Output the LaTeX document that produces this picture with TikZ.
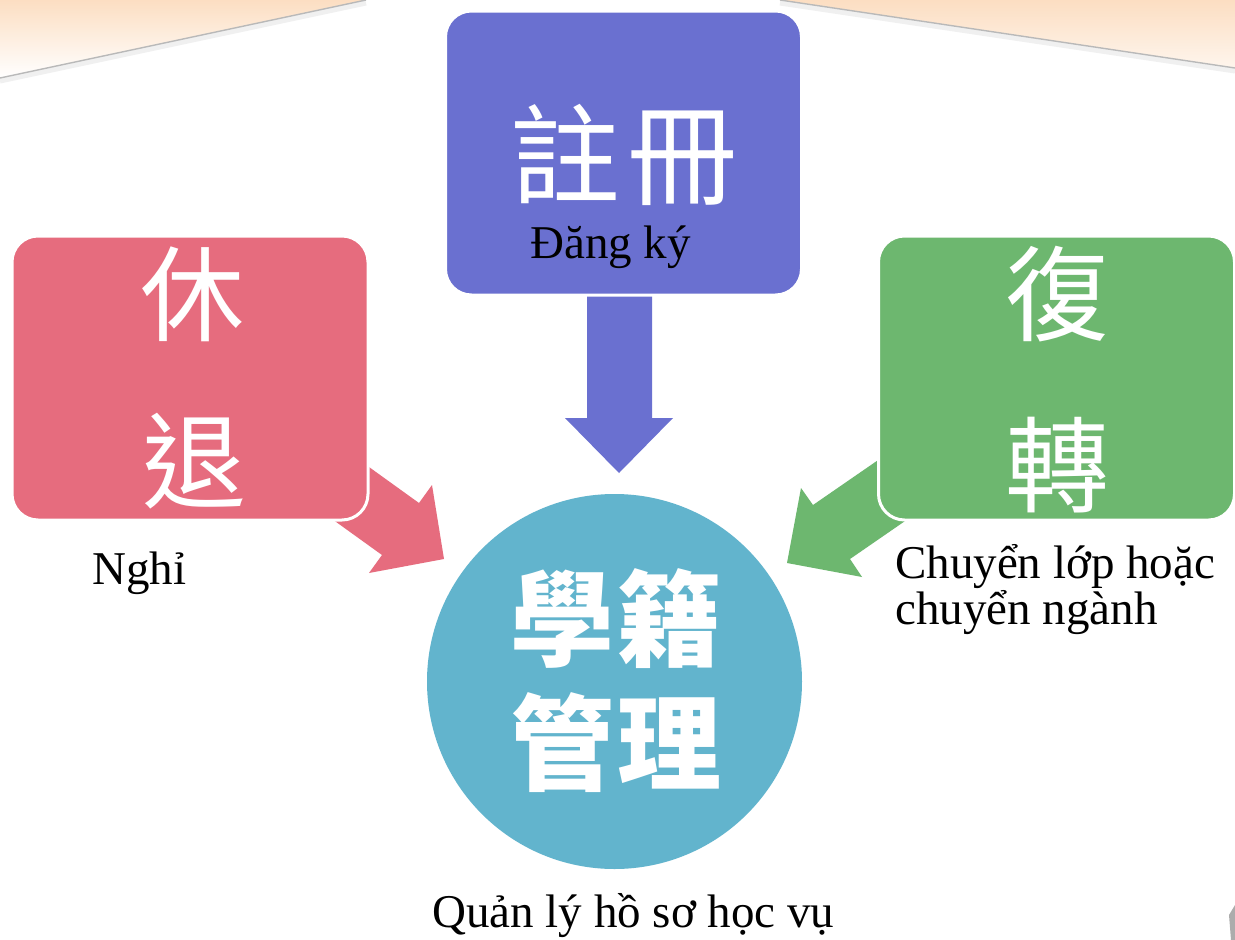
\documentclass[tikz,border=0pt]{standalone}
\usepackage{fontspec}
\setmainfont{Liberation Serif}
\newfontfamily\cjk{Noto Sans CJK TC}
\usetikzlibrary{backgrounds}
\definecolor{regblue}{RGB}{106,112,208}
\definecolor{restred}{RGB}{230,108,126}
\definecolor{retgreen}{RGB}{109,183,111}
\definecolor{circblue}{RGB}{98,180,205}
\definecolor{peach}{RGB}{252,222,194}
\pgfdeclarelayer{deco}
\pgfsetlayers{deco,background,main}
\begin{document}
\begin{tikzpicture}[x=1pt,y=-1pt,
  box/.style={rounded corners=26pt, draw=white, line width=3pt, minimum width=356pt, minimum height=284pt, inner sep=0pt},
  hanzi/.style={text=white, inner sep=0pt, font=\cjk\fontsize{104}{110}\selectfont},
  hanzib/.style={text=white, inner sep=0pt, font=\cjk\bfseries\fontsize{104}{110}\selectfont},
  viet/.style={text=black, inner sep=0pt, anchor=base west, font=\fontsize{47}{47}\selectfont},
  edgeline/.style={draw=gray!55, line width=1.4pt},
  edgeshadow/.style={draw=gray!12, line width=5pt}
]
\useasboundingbox (0,0) rectangle (1235,940);

% decoration at the top
\begin{pgfonlayer}{deco}
  \fill[white] (0,0) rectangle (1235,940);
  \shade[top color=peach, bottom color=white] (0,0) -- (366,0) -- (0,78) -- cycle;
  \shade[top color=peach, bottom color=peach!30] (780,0) -- (1235,0) -- (1235,68) -- cycle;
  \draw[edgeshadow] (0,81) -- (366,3);
  \draw[edgeshadow] (780,3) -- (1235,71);
  \draw[edgeline] (0,78) -- (366,0);
  \draw[edgeline] (780,0) -- (1235,68);
  \fill[gray!65] (1229,915) -- (1235,905) -- (1235,940) -- (1231,940) -- cycle;
\end{pgfonlayer}

% boxes and circle
\node[box, fill=regblue] (reg) at (623.5,153) {};
\node[box, fill=restred] (rest) at (190,378) {};
\node[box, fill=retgreen] (ret) at (1056.5,378) {};
\node[circle, fill=circblue, minimum size=375pt, inner sep=0pt] (core) at (614.5,681.5) {};

% block arrows
\begin{pgfonlayer}{background}
  \fill[regblue] (587,280) -- (652,280) -- (652,418) -- (673,418) -- (619,473)
     -- (565,418) -- (587,418) -- cycle;
  \fill[restred] (319,431) -- (419,503) -- (432,485) -- (444,559) -- (369,573)
     -- (382,555) -- (282,483) -- cycle;
  \fill[retgreen] (913,436) -- (813,505) -- (801,488) -- (787,563) -- (862,577)
     -- (850,559) -- (950,490) -- cycle;
\end{pgfonlayer}

% texts
\node[hanzi, font=\cjk\fontsize{110}{112}\selectfont] (regzh) at (624,155) {註\hspace{8pt}冊};
\node[viet] (regvi) at (530,258) {Đăng ký};
\node[hanzi] (restzh1) at (192,294) {休};
\node[hanzi] (restzh2) at (194,461) {退};
\node[viet] (restvi) at (92,584) {Nghỉ};
\node[hanzi] (retzh1) at (1057,294) {復};
\node[hanzi] (retzh2) at (1057,465) {轉};
\node[viet] (retvi1) at (895,578) {Chuyển lớp hoặc};
\node[viet] (retvi2) at (895,624) {chuyển ngành};
\node[hanzib] (corezh1) at (616,619) {學\hspace{3pt}籍};
\node[hanzib] (corezh2) at (616,743) {管\hspace{3pt}理};
\node[viet] (corevi) at (432,927) {Quản lý hồ sơ học vụ};
\end{tikzpicture}
\end{document}
